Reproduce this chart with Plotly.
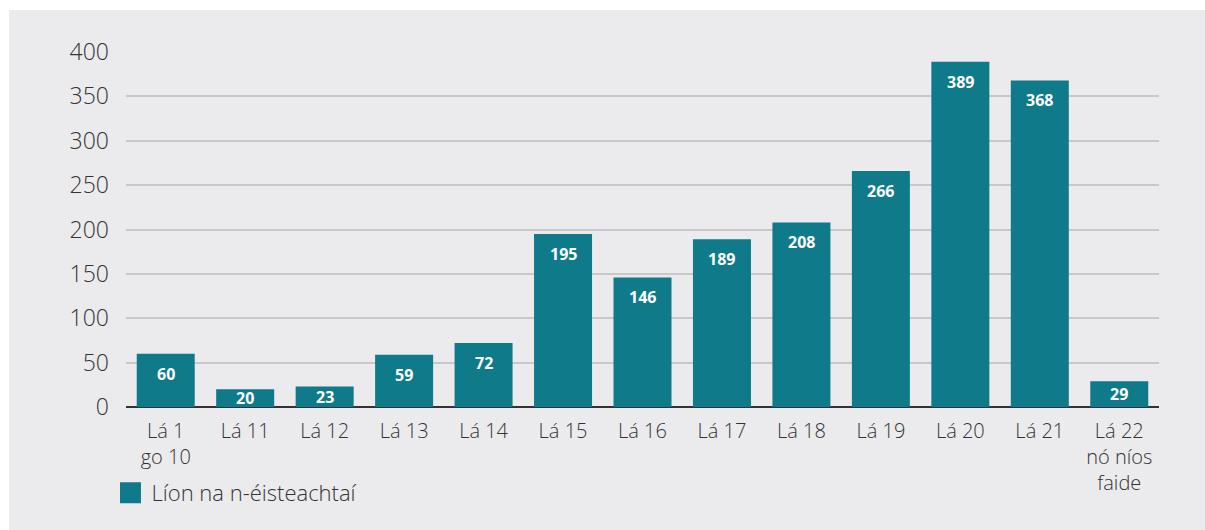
import plotly.graph_objects as go

categories = ["Lá 1<br>go 10", "Lá 11", "Lá 12", "Lá 13", "Lá 14", "Lá 15", "Lá 16",
              "Lá 17", "Lá 18", "Lá 19", "Lá 20", "Lá 21", "Lá 22<br>nó níos<br>faide"]
values = [60, 20, 23, 59, 72, 195, 146, 189, 208, 266, 389, 368, 29]
series_name = "Líon na n-éisteachtaí"
y_ticks = [0, 50, 100, 150, 200, 250, 300, 350, 400]

BAR = "#0f7b8a"
PANEL = "#ebebed"
FONT = "Open Sans"
TXT = "#333333"

W, H = 1205, 530
L, R, T, B = 126, 46, 52, 123
pw, ph = W - L - R, H - T - B
YMAX = 400

fig = go.Figure()
fig.add_trace(go.Bar(
    x=categories, y=values, name=series_name,
    marker=dict(color=BAR, line=dict(width=0)),
    showlegend=False, hoverinfo="x+y",
))
# legend entry (larger square swatch)
fig.add_trace(go.Scatter(
    x=[None], y=[None], mode="markers", name=series_name,
    marker=dict(symbol="square", size=16, color=BAR, line=dict(color=BAR, width=5)),
    showlegend=True,
))

# value labels inside bars, near the top
for c, v in zip(categories, values):
    bar_px = v * ph / YMAX
    shift = min(20, bar_px / 2)
    fig.add_annotation(x=c, y=v, text=str(v), showarrow=False,
                       yanchor="middle", yshift=-shift,
                       font=dict(family=FONT, size=16, color="white", weight="bold"))

fig.add_shape(type="rect", xref="paper", yref="paper", layer="below",
              x0=(9 - L) / pw, x1=(W - L) / pw,
              y0=-B / ph, y1=(H - B - 10) / ph,
              fillcolor=PANEL, line=dict(width=0))

fig.update_layout(
    width=W, height=H,
    margin=dict(l=L, r=R, t=T, b=B),
    paper_bgcolor="white", plot_bgcolor="rgba(0,0,0,0)",
    bargap=0.27,
    font=dict(family=FONT, color=TXT),
    xaxis=dict(range=[-0.5, 12.5], showgrid=False, ticks="", zeroline=False,
               showline=False, ticklabelstandoff=10,
               tickfont=dict(size=20, color=TXT, weight=300),
               fixedrange=True),
    yaxis=dict(range=[0, YMAX], tickvals=y_ticks, showgrid=True,
               gridcolor="#c8c8c8", gridwidth=1.5, zeroline=True,
               zerolinecolor="#333333", zerolinewidth=2, showline=False,
               ticks="", ticklabelstandoff=16,
               tickfont=dict(size=23, color=TXT, weight=300)),
    legend=dict(orientation="h", x=-0.016, xanchor="left", y=-0.242, yanchor="middle",
                font=dict(size=22, color=TXT, weight=300), bgcolor="rgba(0,0,0,0)",
                itemwidth=32),
)

fig.write_html("out.html", config={"displayModeBar": False},
               post_script="document.body.style.margin='0';document.body.style.overflow='hidden';")
